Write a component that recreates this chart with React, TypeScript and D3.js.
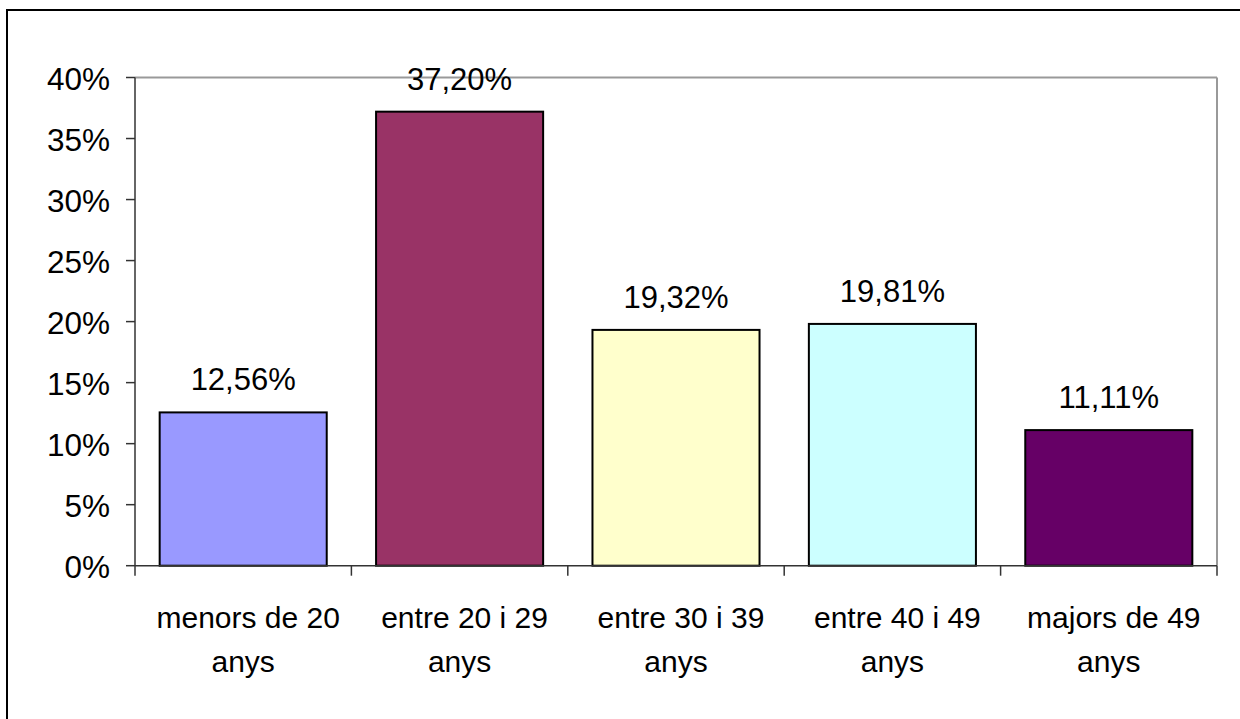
import React from "react";
import * as d3 from "d3";

const categories = ["menors de 20|anys", "entre 20 i 29|anys", "entre 30 i 39|anys", "entre 40 i 49|anys", "majors de 49|anys"];
const values = [12.56, 37.2, 19.32, 19.81, 11.11];
const valueLabels = ["12,56%", "37,20%", "19,32%", "19,81%", "11,11%"];
const colors = ["#9999FF", "#993366", "#FFFFCC", "#CCFFFF", "#660066"];
const yTicks = [0, 5, 10, 15, 20, 25, 30, 35, 40];

const W = 1240;
const H = 719;
const left = 135;
const right = 1217;
const top = 77.5;
const bottom = 565.7;

export default function App() {
  const x = d3.scaleBand<number>().domain(d3.range(categories.length)).range([left, right]).paddingInner(0.228).paddingOuter(0.114);
  const xc = d3.scaleBand<number>().domain(d3.range(categories.length)).range([left, right]);
  const y = d3.scaleLinear().domain([0, 40]).range([bottom, top]);
  const font = "'Liberation Sans', Arial, sans-serif";
  return (
    <svg width={W} height={H} style={{ position: "absolute", left: 0, top: 0, display: "block" }} fontFamily={font}>
      <rect x={0} y={0} width={W} height={H} fill="#fff" />
      <rect x={7} y={10} width={W} height={H} fill="none" stroke="#000" strokeWidth={2} />
      <line x1={left} x2={right} y1={top} y2={top} stroke="#999" strokeWidth={2} />
      <line x1={right} x2={right} y1={top} y2={bottom} stroke="#999" strokeWidth={2} />
      {values.map((v, i) => (
        <rect key={i} x={x(i)} y={y(v)} width={x.bandwidth()} height={bottom - y(v)} fill={colors[i]} stroke="#000" strokeWidth={2} />
      ))}
      <line x1={left} x2={left} y1={top} y2={bottom} stroke="#333" strokeWidth={1.5} />
      <line x1={left} x2={right} y1={bottom} y2={bottom} stroke="#333" strokeWidth={1.5} />
      {yTicks.map((t) => (
        <g key={t}>
          <line x1={126} x2={left} y1={y(t)} y2={y(t)} stroke="#333" strokeWidth={1.5} />
          <text x={110} y={y(t) + 12} textAnchor="end" fontSize={31.5} fill="#000">{t}%</text>
        </g>
      ))}
      {d3.range(categories.length + 1).map((i) => {
        const xx = i < categories.length ? (xc(i) as number) : right;
        return <line key={i} x1={xx} x2={xx} y1={bottom} y2={bottom + 10} stroke="#333" strokeWidth={1.5} />;
      })}
      {values.map((v, i) => (
        <text key={i} x={(x(i) as number) + x.bandwidth() / 2} y={y(v) - 22} textAnchor="middle" fontSize={31} fill="#000">{valueLabels[i]}</text>
      ))}
      {categories.map((c, i) => {
        const cx = (xc(i) as number) + xc.bandwidth() / 2;
        return c.split("|").map((line, j) => (
          <text key={i + "-" + j} x={cx + (j === 0 ? 5 : 0)} y={628 + j * 44} textAnchor="middle" fontSize={30} fill="#000">{line}</text>
        ));
      })}
    </svg>
  );
}
